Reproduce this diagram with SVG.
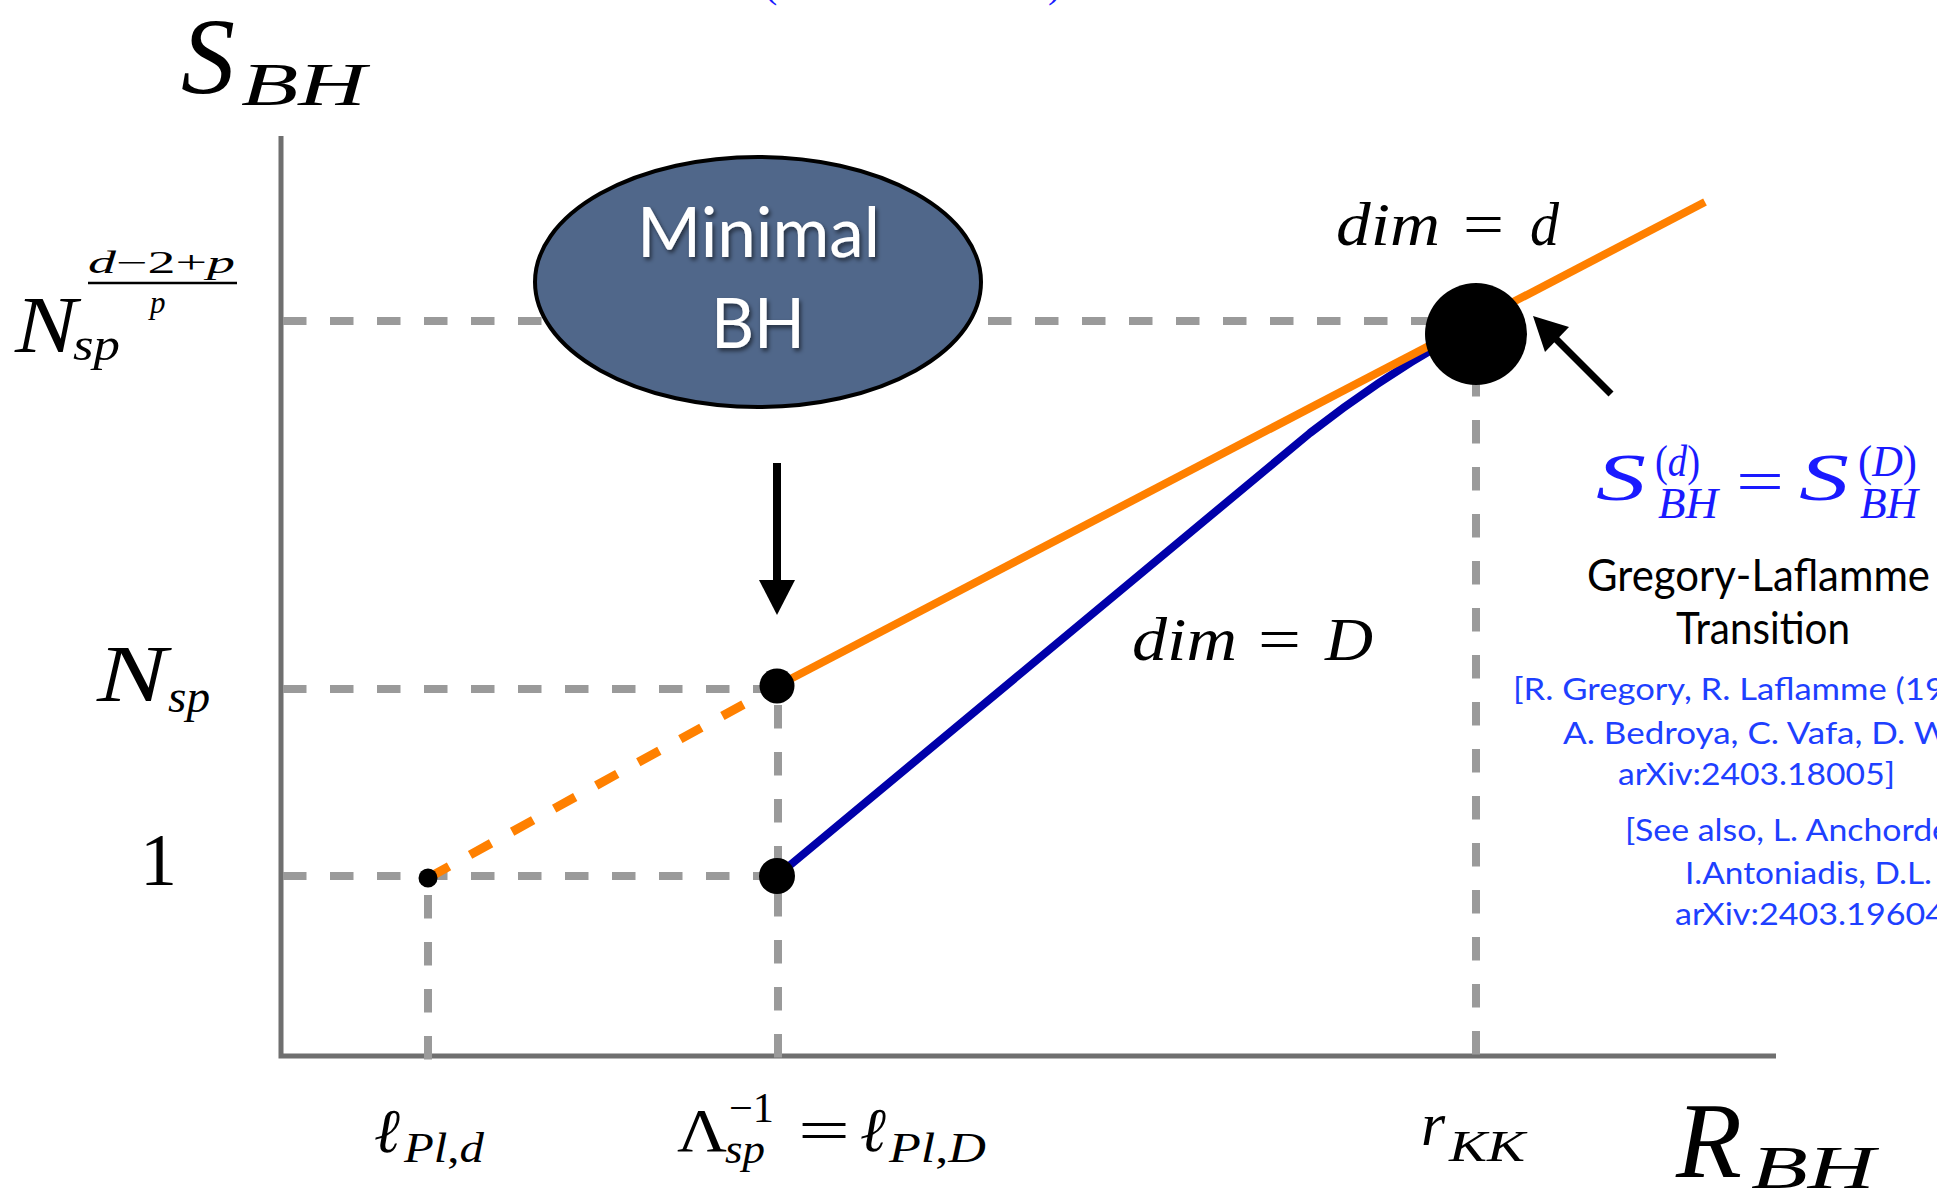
<svg xmlns="http://www.w3.org/2000/svg" width="1937" height="1194" viewBox="0 0 1937 1194">
<defs>
<style>
.axis{stroke:#6f6f6f;stroke-width:5;fill:none}
.guide{stroke:#9a9a9a;stroke-width:8;stroke-dasharray:23.5 23.5;fill:none}
.m{font-family:"Liberation Serif","DejaVu Serif",serif;font-style:italic;fill:#000}
.u{font-style:normal}
.bl{fill:#1a1aff}
.sans{font-family:Lato,"Open Sans","Noto Sans",sans-serif}
.cite{font-family:Lato,"Open Sans","Noto Sans",sans-serif;font-size:31px;fill:#1e40ff}
.dot{fill:#000}
</style>
<filter id="sh" x="-10%" y="-10%" width="130%" height="140%">
<feDropShadow dx="2" dy="3" stdDeviation="2" flood-color="#000" flood-opacity="0.55"/>
</filter>
</defs>
<rect width="1937" height="1194" fill="#fff"/>

<!-- top clipped blue text fragments -->
<text class="m u bl" x="764" y="-3" font-size="40">(</text>
<text class="m u bl" x="1048" y="-3" font-size="40">)</text>

<g id="axes">
<polyline class="axis" points="281,136 281,1056 1776,1056"/>
</g>

<g id="guides">
<line class="guide" x1="283" y1="321" x2="1440" y2="321"/>
<line class="guide" x1="283" y1="689" x2="770" y2="689"/>
<line class="guide" x1="283" y1="876" x2="770" y2="876"/>
<line class="guide" x1="428" y1="895" x2="428" y2="1060"/>
<line class="guide" x1="778" y1="705" x2="778" y2="1060"/>
<line class="guide" x1="1476" y1="373" x2="1476" y2="1060"/>
</g>

<g id="minimal-bh">
<ellipse cx="758" cy="282" rx="223" ry="125" fill="#50678a" stroke="#000" stroke-width="4"/>
<g filter="url(#sh)" class="sans" fill="#fff">
<text x="637" y="257" font-size="70" textLength="243" lengthAdjust="spacingAndGlyphs">Minimal</text>
<text x="711" y="348" font-size="70" textLength="94" lengthAdjust="spacingAndGlyphs">BH</text>
</g>
</g>

<g id="connectors">
<path d="M777,876 L1310,433 Q1378,380 1445,342" fill="none" stroke="#0000aa" stroke-width="8"/>
<line x1="428" y1="878" x2="777" y2="686" stroke="#ff8000" stroke-width="9" stroke-dasharray="24 24"/>
<line x1="777" y1="686" x2="1705" y2="202" stroke="#ff8000" stroke-width="8"/>
<line x1="777" y1="463" x2="777" y2="582" stroke="#000" stroke-width="8"/>
<polygon points="759,580 795,580 777,615" fill="#000"/>
<line x1="1611" y1="394" x2="1552" y2="335" stroke="#000" stroke-width="7"/>
<polygon points="1533,316 1569,327 1545,352" fill="#000"/>
</g>

<g id="point-lpl-d"><circle class="dot" cx="428" cy="878" r="9.5"/></g>
<g id="point-nsp"><circle class="dot" cx="777" cy="686" r="17.5"/></g>
<g id="point-one"><circle class="dot" cx="777" cy="876" r="18"/></g>
<g id="point-gl"><circle class="dot" cx="1476" cy="334" r="51"/></g>

<g id="labels">
<text class="m" x="181" y="93" font-size="108">S</text>
<text class="m" x="241" y="105" font-size="62" textLength="125" lengthAdjust="spacingAndGlyphs">BH</text>

<text class="m" x="15" y="352" font-size="80" textLength="62" lengthAdjust="spacingAndGlyphs">N</text>
<text class="m" x="73" y="360" font-size="46" textLength="47" lengthAdjust="spacingAndGlyphs">sp</text>
<text class="m" x="88" y="273" font-size="31" textLength="147" lengthAdjust="spacingAndGlyphs">d<tspan class="u">−2+</tspan>p</text>
<line x1="88" y1="283" x2="237" y2="283" stroke="#000" stroke-width="2.5"/>
<text class="m" x="150" y="313" font-size="31">p</text>

<text class="m" x="97" y="701" font-size="80" textLength="70" lengthAdjust="spacingAndGlyphs">N</text>
<text class="m" x="168" y="712" font-size="46" textLength="42" lengthAdjust="spacingAndGlyphs">sp</text>

<text class="m u" x="140" y="885" font-size="74">1</text>

<text class="m" x="374" y="1152" font-size="62">ℓ</text>
<text class="m" x="404" y="1162" font-size="42" textLength="80" lengthAdjust="spacingAndGlyphs">Pl<tspan class="u">,</tspan>d</text>

<text class="m u" x="677" y="1151" font-size="62" textLength="50" lengthAdjust="spacingAndGlyphs">Λ</text>
<text class="m u" x="729" y="1122" font-size="42" textLength="45" lengthAdjust="spacingAndGlyphs">−1</text>
<text class="m" x="725" y="1163" font-size="42" textLength="40" lengthAdjust="spacingAndGlyphs">sp</text>
<text class="m u" x="798" y="1151" font-size="62" textLength="52" lengthAdjust="spacingAndGlyphs">=</text>
<text class="m" x="860" y="1151" font-size="62">ℓ</text>
<text class="m" x="889" y="1162" font-size="42" textLength="97" lengthAdjust="spacingAndGlyphs">Pl<tspan class="u">,</tspan>D</text>

<text class="m" x="1421" y="1145" font-size="62">r</text>
<text class="m" x="1449" y="1161" font-size="44" textLength="76" lengthAdjust="spacingAndGlyphs">KK</text>

<text class="m" x="1676" y="1177" font-size="108">R</text>
<text class="m" x="1751" y="1188" font-size="62" textLength="124" lengthAdjust="spacingAndGlyphs">BH</text>

<text class="m" x="1336" y="245" font-size="62" textLength="104" lengthAdjust="spacingAndGlyphs">dim</text>
<text class="m u" x="1463" y="245" font-size="62" textLength="41" lengthAdjust="spacingAndGlyphs">=</text>
<text class="m" x="1530" y="245" font-size="62" textLength="29" lengthAdjust="spacingAndGlyphs">d</text>

<text class="m" x="1132" y="660" font-size="62" textLength="105" lengthAdjust="spacingAndGlyphs">dim</text>
<text class="m u" x="1258" y="660" font-size="62" textLength="43" lengthAdjust="spacingAndGlyphs">=</text>
<text class="m" x="1325" y="660" font-size="62" textLength="48" lengthAdjust="spacingAndGlyphs">D</text>
</g>

<g id="gl-formula">
<text class="m bl" x="1596" y="500" font-size="68" textLength="50" lengthAdjust="spacingAndGlyphs">S</text>
<text class="m bl" x="1655" y="476" font-size="44" textLength="45" lengthAdjust="spacingAndGlyphs"><tspan class="u">(</tspan>d<tspan class="u">)</tspan></text>
<text class="m bl" x="1658" y="518" font-size="44" textLength="60" lengthAdjust="spacingAndGlyphs">BH</text>
<text class="m u bl" x="1736" y="502" font-size="62" textLength="48" lengthAdjust="spacingAndGlyphs">=</text>
<text class="m bl" x="1799" y="500" font-size="68" textLength="50" lengthAdjust="spacingAndGlyphs">S</text>
<text class="m bl" x="1858" y="476" font-size="44" textLength="59" lengthAdjust="spacingAndGlyphs"><tspan class="u">(</tspan>D<tspan class="u">)</tspan></text>
<text class="m bl" x="1860" y="518" font-size="44" textLength="58" lengthAdjust="spacingAndGlyphs">BH</text>
</g>

<g id="gl-caption">
<text class="sans" x="1587" y="591" font-size="45" textLength="343" lengthAdjust="spacingAndGlyphs">Gregory-Laflamme</text>
<text class="sans" x="1676" y="644" font-size="45" textLength="174" lengthAdjust="spacingAndGlyphs">Transition</text>
<text class="cite" x="1513" y="700" textLength="432" lengthAdjust="spacingAndGlyphs">[R. Gregory,  R. Laflamme (19</text>
<text class="cite" x="1563" y="744" textLength="387" lengthAdjust="spacingAndGlyphs">A. Bedroya,  C. Vafa, D. W</text>
<text class="cite" x="1618" y="785" textLength="277" lengthAdjust="spacingAndGlyphs">arXiv:2403.18005]</text>
<text class="cite" x="1625" y="841" textLength="325" lengthAdjust="spacingAndGlyphs">[See also, L. Anchorde</text>
<text class="cite" x="1685" y="884" textLength="247" lengthAdjust="spacingAndGlyphs">I.Antoniadis, D.L.</text>
<text class="cite" x="1675" y="925" textLength="270" lengthAdjust="spacingAndGlyphs">arXiv:2403.19604</text>
</g>
</svg>
